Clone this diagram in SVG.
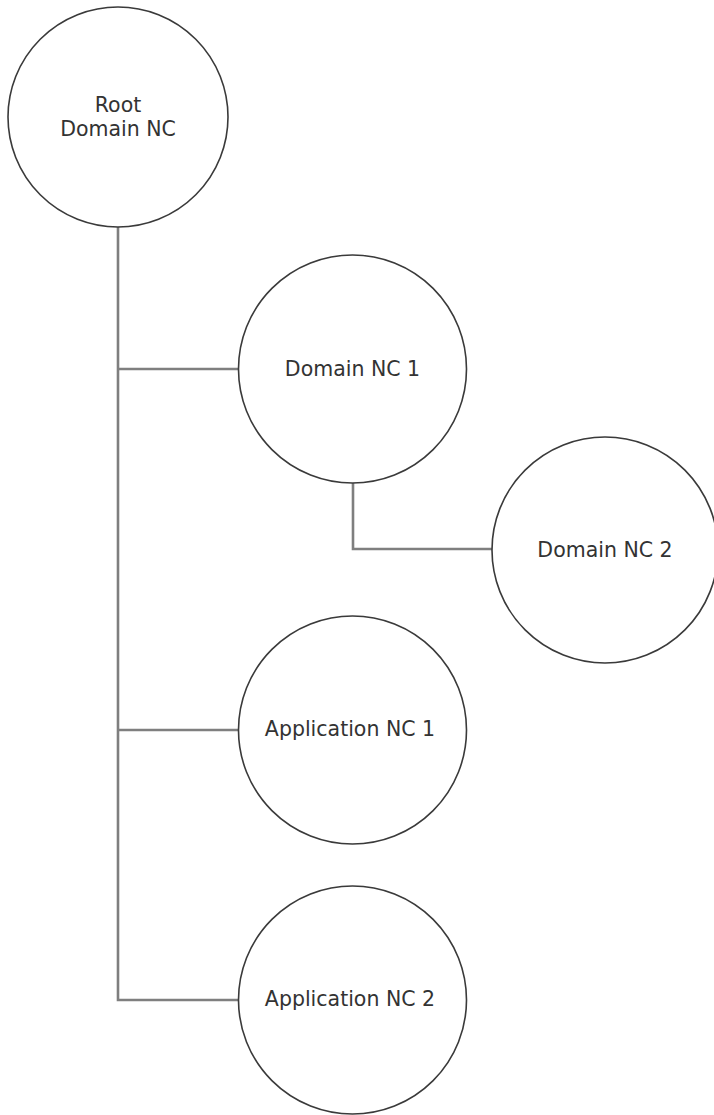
<svg xmlns="http://www.w3.org/2000/svg" width="714" height="1115" viewBox="0 0 714 1115">
  <style>
    .node circle { fill: #ffffff; stroke: #3a3a3a; stroke-width: 1.6; }
    .node text { font-family: "DejaVu Sans", Verdana, sans-serif; font-size: 20.5px; fill: #333333; text-anchor: middle; }
    .link { fill: none; stroke: #7f7f7f; stroke-width: 2.6; }
  </style>
  <rect width="714" height="1115" fill="#ffffff"/>

  <!-- tree connectors -->
  <g id="connectors">
    <path class="link" d="M118 227 V1000 H238"/>
    <path class="link" d="M118 369 H238"/>
    <path class="link" d="M118 730 H238"/>
    <path class="link" d="M353 483 V549 H492"/>
  </g>

  <g id="root-domain-nc" class="node">
    <circle cx="118" cy="117" r="110"/>
    <text x="118" y="112">Root</text>
    <text x="118" y="136">Domain NC</text>
  </g>

  <g id="domain-nc-1" class="node">
    <circle cx="352.5" cy="369" r="114"/>
    <text x="352.5" y="376">Domain NC 1</text>
  </g>

  <g id="domain-nc-2" class="node">
    <circle cx="605" cy="550" r="113"/>
    <text x="605" y="557">Domain NC 2</text>
  </g>

  <g id="application-nc-1" class="node">
    <circle cx="352.5" cy="730" r="114"/>
    <text x="350" y="736">Application NC 1</text>
  </g>

  <g id="application-nc-2" class="node">
    <circle cx="352.5" cy="1000" r="114"/>
    <text x="350" y="1006">Application NC 2</text>
  </g>
</svg>
